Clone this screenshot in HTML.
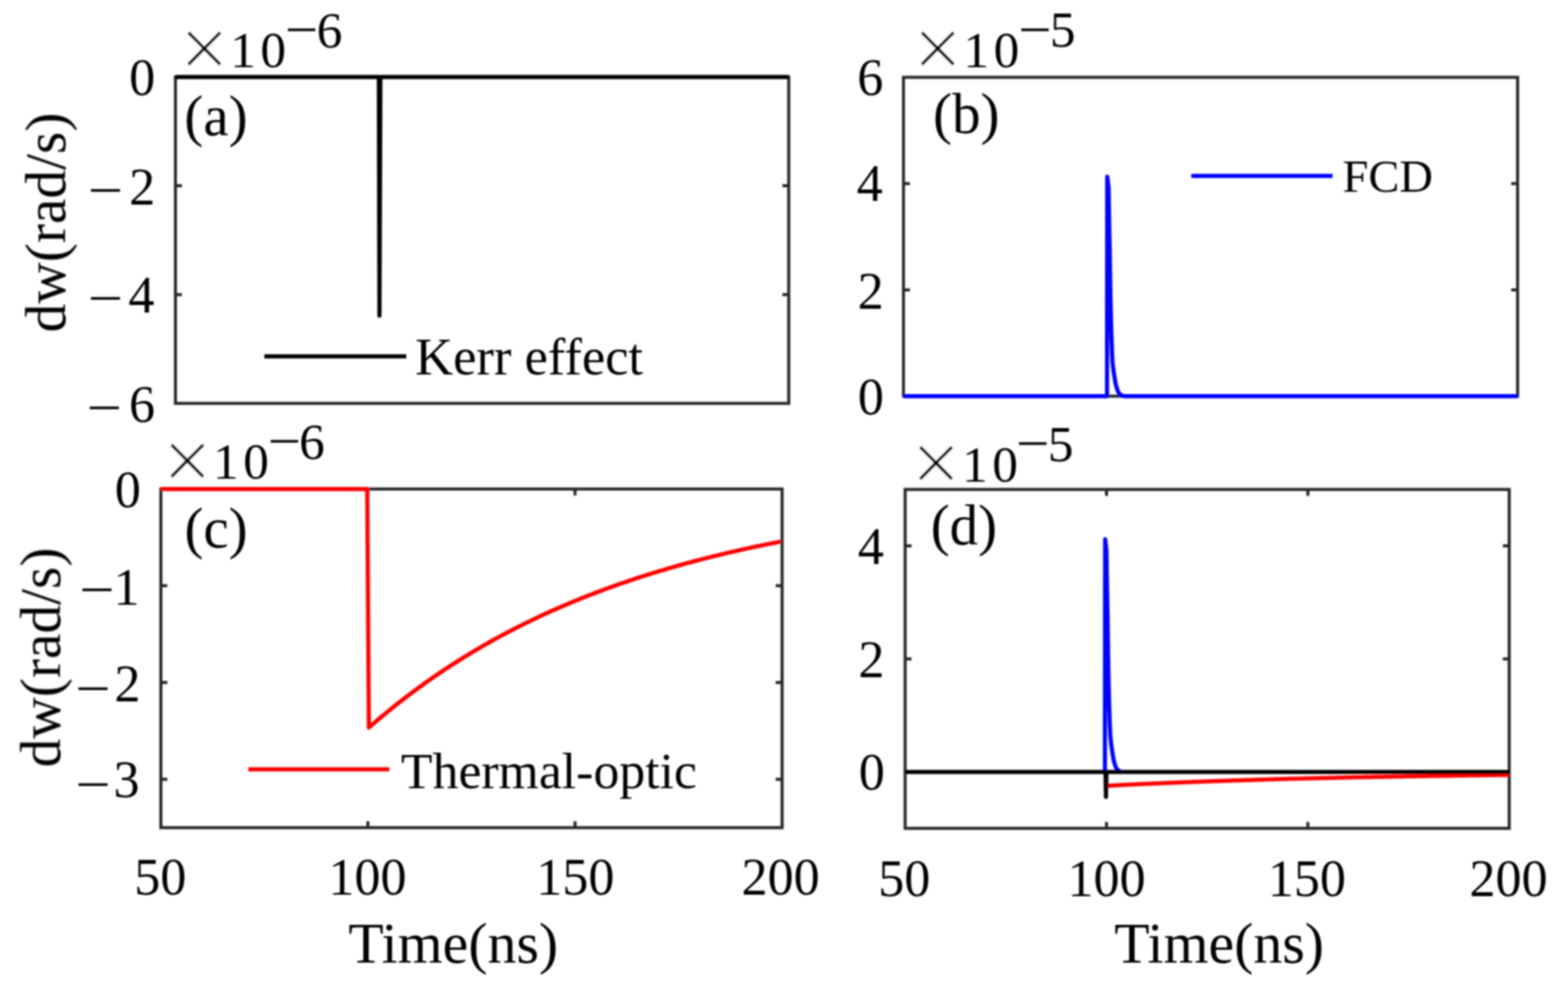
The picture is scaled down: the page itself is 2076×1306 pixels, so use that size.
<!DOCTYPE html>
<html><head><meta charset="utf-8"><title>dw vs Time</title>
<style>html,body{margin:0;padding:0;background:#fff;}svg{display:block;}text{font-family:'Liberation Serif', 'Times New Roman', serif;fill:#000;}</style>
</head><body>
<svg width="2076" height="1306" viewBox="0 0 2076 1306">
<defs><filter id="soft" x="-2%" y="-2%" width="104%" height="104%"><feGaussianBlur stdDeviation="1.0"/></filter></defs>
<rect width="2076" height="1306" fill="#fff"/>
<g filter="url(#soft)">
<rect x="232.3" y="102.0" width="812.00" height="432.30" fill="none" stroke="#262626" stroke-width="4.0"/>
<path d="M232.3,246.10h8.5M1044.3,246.10h-8.5M232.3,390.20h8.5M1044.3,390.20h-8.5" stroke="#262626" stroke-width="4.0" fill="none"/>
<rect x="1196.2" y="102.4" width="813.10" height="422.30" fill="none" stroke="#262626" stroke-width="4.0"/>
<path d="M1196.2,383.93h8.5M2009.3,383.93h-8.5M1196.2,243.17h8.5M2009.3,243.17h-8.5" stroke="#262626" stroke-width="4.0" fill="none"/>
<rect x="213.0" y="647.7" width="822.50" height="448.60" fill="none" stroke="#262626" stroke-width="4.0"/>
<path d="M213.0,775.87h8.5M1035.5,775.87h-8.5M213.0,904.04h8.5M1035.5,904.04h-8.5M213.0,1032.21h8.5M1035.5,1032.21h-8.5M487.17,1096.3v-8.5M487.17,647.7v8.5M761.33,1096.3v-8.5M761.33,647.7v8.5" stroke="#262626" stroke-width="4.0" fill="none"/>
<rect x="1198.4" y="648.3" width="799.80" height="448.90" fill="none" stroke="#262626" stroke-width="4.0"/>
<path d="M1198.4,1022.38h8.5M1998.2,1022.38h-8.5M1198.4,872.75h8.5M1998.2,872.75h-8.5M1198.4,723.12h8.5M1998.2,723.12h-8.5M1465.00,1097.2v-8.5M1465.00,648.3v8.5M1731.60,1097.2v-8.5M1731.60,648.3v8.5" stroke="#262626" stroke-width="4.0" fill="none"/>
<path d="M232.30,102.00L501.60,102.00L502.40,418.00L503.60,102.00L1044.30,102.00" fill="none" stroke="#000" stroke-width="5.5" stroke-linejoin="round" stroke-linecap="butt"/>
<path d="M1196.20,524.70L1465.70,524.70L1466.00,234.02L1467.72,248.19L1467.94,261.68L1468.16,274.51L1468.38,286.71L1468.59,298.32L1468.81,309.36L1469.03,319.86L1469.25,329.85L1469.38,339.35L1469.51,348.39L1469.63,356.99L1469.76,365.17L1469.89,372.95L1470.02,380.35L1470.15,387.39L1470.27,394.09L1470.40,400.46L1470.53,406.52L1470.66,412.28L1470.79,417.76L1470.92,422.98L1471.04,427.94L1471.17,432.66L1471.30,437.15L1471.42,441.42L1471.55,445.48L1471.68,449.34L1471.80,453.02L1471.93,456.51L1472.06,459.84L1472.18,463.00L1472.31,466.01L1472.44,468.87L1472.56,471.60L1472.69,474.19L1472.82,476.65L1472.94,478.99L1473.13,481.22L1473.35,483.34L1473.58,485.36L1473.81,487.28L1474.03,489.10L1474.26,490.84L1474.49,492.49L1474.71,494.06L1474.94,495.56L1475.17,496.98L1475.39,498.33L1475.62,499.62L1475.81,500.84L1475.99,502.00L1476.17,503.11L1476.34,504.16L1476.52,505.16L1476.70,506.12L1476.88,507.02L1477.05,507.89L1477.23,508.71L1477.41,509.49L1477.58,510.23L1477.76,510.93L1477.94,511.60L1478.11,512.24L1478.29,512.85L1478.47,513.43L1478.65,513.98L1478.82,514.50L1479.00,515.00L1479.15,515.47L1479.29,515.92L1479.44,516.35L1479.58,516.76L1479.73,517.14L1479.88,517.51L1480.02,517.86L1480.17,518.20L1480.31,518.51L1480.46,518.82L1480.60,519.10L1480.75,519.38L1480.90,519.64L1481.04,519.88L1481.19,520.12L1481.33,520.34L1481.48,520.55L1481.62,520.76L1481.77,520.95L1481.92,521.13L1482.06,521.31L1482.21,521.47L1482.35,521.63L1482.50,521.78L1482.61,521.92L1482.71,522.06L1482.82,522.19L1482.93,522.31L1483.04,522.42L1483.14,522.54L1483.25,522.64L1483.36,522.74L1483.46,522.84L1483.57,522.93L1483.68,523.01L1483.79,523.10L1483.89,523.17L1484.00,523.25L1484.11,523.32L1484.21,523.39L1484.32,523.45L1484.43,523.51L1484.54,523.57L1484.64,523.63L1484.75,523.68L1484.86,523.73L1484.96,523.77L1485.07,523.82L1485.18,523.86L1485.29,523.90L1485.39,523.94L1485.50,523.98L1488.00,524.70L2009.30,524.70" fill="none" stroke="#00f" stroke-width="5.5" stroke-linejoin="round" stroke-linecap="butt"/>
<path d="M213.00,647.70L486.20,647.70L488.40,963.64L491.14,961.25L493.88,958.88L496.62,956.52L499.37,954.18L502.11,951.86L504.85,949.56L507.59,947.27L510.33,945.01L513.08,942.75L515.82,940.52L518.56,938.30L521.30,936.10L524.04,933.92L526.78,931.75L529.53,929.60L532.27,927.47L535.01,925.35L537.75,923.25L540.49,921.16L543.23,919.09L545.98,917.04L548.72,915.00L551.46,912.97L554.20,910.96L556.94,908.97L559.68,906.99L562.42,905.03L565.17,903.08L567.91,901.15L570.65,899.23L573.39,897.33L576.13,895.44L578.88,893.56L581.62,891.70L584.36,889.85L587.10,888.02L589.84,886.20L592.58,884.39L595.33,882.60L598.07,880.82L600.81,879.06L603.55,877.31L606.29,875.57L609.03,873.84L611.78,872.13L614.52,870.43L617.26,868.74L620.00,867.07L622.74,865.41L625.48,863.76L628.22,862.13L630.97,860.50L633.71,858.89L636.45,857.29L639.19,855.70L641.93,854.13L644.67,852.57L647.42,851.02L650.16,849.48L652.90,847.95L655.64,846.43L658.38,844.93L661.12,843.43L663.87,841.95L666.61,840.48L669.35,839.02L672.09,837.57L674.83,836.14L677.58,834.71L680.32,833.29L683.06,831.89L685.80,830.49L688.54,829.11L691.28,827.74L694.03,826.37L696.77,825.02L699.51,823.68L702.25,822.35L704.99,821.02L707.73,819.71L710.48,818.41L713.22,817.12L715.96,815.83L718.70,814.56L721.44,813.30L724.18,812.04L726.92,810.80L729.67,809.56L732.41,808.34L735.15,807.12L737.89,805.92L740.63,804.72L743.38,803.53L746.12,802.35L748.86,801.18L751.60,800.02L754.34,798.86L757.08,797.72L759.83,796.58L762.57,795.46L765.31,794.34L768.05,793.23L770.79,792.13L773.53,791.03L776.27,789.95L779.02,788.87L781.76,787.80L784.50,786.74L787.24,785.69L789.98,784.64L792.73,783.61L795.47,782.58L798.21,781.56L800.95,780.54L803.69,779.54L806.43,778.54L809.18,777.55L811.92,776.56L814.66,775.59L817.40,774.62L820.14,773.66L822.88,772.71L825.62,771.76L828.37,770.82L831.11,769.89L833.85,768.96L836.59,768.04L839.33,767.13L842.08,766.23L844.82,765.33L847.56,764.44L850.30,763.56L853.04,762.68L855.78,761.81L858.52,760.95L861.27,760.09L864.01,759.24L866.75,758.39L869.49,757.55L872.23,756.72L874.98,755.90L877.72,755.08L880.46,754.27L883.20,753.46L885.94,752.66L888.68,751.86L891.43,751.07L894.17,750.29L896.91,749.52L899.65,748.74L902.39,747.98L905.13,747.22L907.88,746.47L910.62,745.72L913.36,744.98L916.10,744.24L918.84,743.51L921.58,742.78L924.32,742.06L927.07,741.35L929.81,740.64L932.55,739.94L935.29,739.24L938.03,738.55L940.77,737.86L943.52,737.18L946.26,736.50L949.00,735.83L951.74,735.16L954.48,734.50L957.23,733.84L959.97,733.19L962.71,732.54L965.45,731.90L968.19,731.26L970.93,730.63L973.68,730.00L976.42,729.38L979.16,728.76L981.90,728.14L984.64,727.53L987.38,726.93L990.12,726.33L992.87,725.74L995.61,725.14L998.35,724.56L1001.09,723.98L1003.83,723.40L1006.58,722.83L1009.32,722.26L1012.06,721.69L1014.80,721.13L1017.54,720.58L1020.28,720.02L1023.02,719.48L1025.77,718.93L1028.51,718.39L1031.25,717.86L1033.99,717.33" fill="none" stroke="#f00" stroke-width="5.5" stroke-linejoin="round" stroke-linecap="butt"/>
<path d="M1462.90,1022.38L1463.20,714.14L1464.89,729.17L1465.11,743.47L1465.32,757.07L1465.54,770.01L1465.75,782.32L1465.97,794.03L1466.18,805.17L1466.40,815.76L1466.52,825.84L1466.65,835.42L1466.78,844.54L1466.90,853.22L1467.03,861.47L1467.15,869.31L1467.28,876.78L1467.41,883.88L1467.53,890.63L1467.66,897.06L1467.78,903.17L1467.91,908.99L1468.04,914.52L1468.16,919.78L1468.29,924.78L1468.41,929.54L1468.54,934.07L1468.66,938.38L1468.79,942.47L1468.91,946.37L1469.03,950.08L1469.16,953.60L1469.28,956.96L1469.41,960.15L1469.53,963.18L1469.66,966.07L1469.78,968.82L1469.91,971.43L1470.03,973.92L1470.21,976.28L1470.43,978.53L1470.66,980.67L1470.88,982.70L1471.10,984.64L1471.33,986.48L1471.55,988.23L1471.77,989.89L1471.99,991.48L1472.22,992.99L1472.44,994.42L1472.66,995.78L1472.85,997.08L1473.03,998.32L1473.20,999.49L1473.38,1000.61L1473.55,1001.67L1473.72,1002.68L1473.90,1003.64L1474.07,1004.55L1474.25,1005.42L1474.42,1006.25L1474.60,1007.04L1474.77,1007.79L1474.94,1008.50L1475.12,1009.17L1475.29,1009.82L1475.47,1010.43L1475.64,1011.01L1475.81,1011.57L1475.99,1012.10L1476.13,1012.60L1476.28,1013.08L1476.42,1013.53L1476.56,1013.96L1476.71,1014.37L1476.85,1014.76L1476.99,1015.13L1477.14,1015.49L1477.28,1015.82L1477.42,1016.14L1477.57,1016.45L1477.71,1016.74L1477.85,1017.01L1478.00,1017.27L1478.14,1017.52L1478.28,1017.76L1478.43,1017.99L1478.57,1018.20L1478.71,1018.40L1478.86,1018.60L1479.00,1018.78L1479.15,1018.96L1479.29,1019.13L1479.43,1019.28L1479.54,1019.44L1479.64,1019.58L1479.75,1019.72L1479.85,1019.85L1479.96,1019.97L1480.06,1020.09L1480.17,1020.20L1480.28,1020.31L1480.38,1020.41L1480.49,1020.50L1480.59,1020.60L1480.70,1020.68L1480.80,1020.77L1480.91,1020.84L1481.01,1020.92L1481.12,1020.99L1481.22,1021.06L1481.33,1021.12L1481.43,1021.19L1481.54,1021.24L1481.65,1021.30L1481.75,1021.35L1481.86,1021.40L1481.96,1021.45L1482.07,1021.50L1482.17,1021.54L1482.28,1021.58L1482.38,1021.62L1484.84,1022.38" fill="none" stroke="#00f" stroke-width="5.5" stroke-linejoin="round" stroke-linecap="butt"/>
<path d="M1464.30,1022.38L1464.90,1040.83L1467.57,1040.69L1470.23,1040.55L1472.90,1040.41L1475.56,1040.27L1478.23,1040.14L1480.90,1040.00L1483.56,1039.87L1486.23,1039.74L1488.89,1039.61L1491.56,1039.48L1494.23,1039.35L1496.89,1039.22L1499.56,1039.09L1502.22,1038.96L1504.89,1038.84L1507.56,1038.71L1510.22,1038.59L1512.89,1038.47L1515.55,1038.35L1518.22,1038.23L1520.89,1038.11L1523.55,1037.99L1526.22,1037.87L1528.88,1037.75L1531.55,1037.63L1534.22,1037.52L1536.88,1037.40L1539.55,1037.29L1542.21,1037.18L1544.88,1037.07L1547.55,1036.95L1550.21,1036.84L1552.88,1036.73L1555.54,1036.63L1558.21,1036.52L1560.88,1036.41L1563.54,1036.31L1566.21,1036.20L1568.87,1036.10L1571.54,1035.99L1574.21,1035.89L1576.87,1035.79L1579.54,1035.68L1582.20,1035.58L1584.87,1035.48L1587.54,1035.38L1590.20,1035.29L1592.87,1035.19L1595.53,1035.09L1598.20,1035.00L1600.87,1034.90L1603.53,1034.81L1606.20,1034.71L1608.86,1034.62L1611.53,1034.53L1614.20,1034.43L1616.86,1034.34L1619.53,1034.25L1622.19,1034.16L1624.86,1034.07L1627.53,1033.98L1630.19,1033.90L1632.86,1033.81L1635.52,1033.72L1638.19,1033.64L1640.86,1033.55L1643.52,1033.47L1646.19,1033.38L1648.85,1033.30L1651.52,1033.22L1654.19,1033.13L1656.85,1033.05L1659.52,1032.97L1662.18,1032.89L1664.85,1032.81L1667.52,1032.73L1670.18,1032.66L1672.85,1032.58L1675.51,1032.50L1678.18,1032.42L1680.85,1032.35L1683.51,1032.27L1686.18,1032.20L1688.84,1032.12L1691.51,1032.05L1694.18,1031.98L1696.84,1031.90L1699.51,1031.83L1702.17,1031.76L1704.84,1031.69L1707.51,1031.62L1710.17,1031.55L1712.84,1031.48L1715.50,1031.41L1718.17,1031.34L1720.84,1031.27L1723.50,1031.21L1726.17,1031.14L1728.83,1031.07L1731.50,1031.01L1734.17,1030.94L1736.83,1030.88L1739.50,1030.81L1742.16,1030.75L1744.83,1030.69L1747.50,1030.62L1750.16,1030.56L1752.83,1030.50L1755.49,1030.44L1758.16,1030.38L1760.83,1030.32L1763.49,1030.26L1766.16,1030.20L1768.82,1030.14L1771.49,1030.08L1774.16,1030.02L1776.82,1029.96L1779.49,1029.91L1782.15,1029.85L1784.82,1029.79L1787.49,1029.74L1790.15,1029.68L1792.82,1029.62L1795.48,1029.57L1798.15,1029.52L1800.82,1029.46L1803.48,1029.41L1806.15,1029.35L1808.81,1029.30L1811.48,1029.25L1814.15,1029.20L1816.81,1029.15L1819.48,1029.10L1822.14,1029.04L1824.81,1028.99L1827.48,1028.94L1830.14,1028.89L1832.81,1028.84L1835.47,1028.80L1838.14,1028.75L1840.81,1028.70L1843.47,1028.65L1846.14,1028.60L1848.80,1028.56L1851.47,1028.51L1854.14,1028.46L1856.80,1028.42L1859.47,1028.37L1862.13,1028.33L1864.80,1028.28L1867.47,1028.24L1870.13,1028.19L1872.80,1028.15L1875.46,1028.10L1878.13,1028.06L1880.80,1028.02L1883.46,1027.98L1886.13,1027.93L1888.79,1027.89L1891.46,1027.85L1894.13,1027.81L1896.79,1027.77L1899.46,1027.73L1902.12,1027.69L1904.79,1027.65L1907.46,1027.61L1910.12,1027.57L1912.79,1027.53L1915.45,1027.49L1918.12,1027.45L1920.79,1027.41L1923.45,1027.37L1926.12,1027.34L1928.78,1027.30L1931.45,1027.26L1934.12,1027.22L1936.78,1027.19L1939.45,1027.15L1942.11,1027.11L1944.78,1027.08L1947.45,1027.04L1950.11,1027.01L1952.78,1026.97L1955.44,1026.94L1958.11,1026.90L1960.78,1026.87L1963.44,1026.84L1966.11,1026.80L1968.77,1026.77L1971.44,1026.74L1974.11,1026.70L1976.77,1026.67L1979.44,1026.64L1982.10,1026.61L1984.77,1026.57L1987.44,1026.54L1990.10,1026.51L1992.77,1026.48L1995.43,1026.45L1998.10,1026.42" fill="none" stroke="#f00" stroke-width="5.5" stroke-linejoin="round" stroke-linecap="butt"/>
<path d="M1198.40,1022.38L1463.70,1022.38L1464.30,1055.50L1464.90,1022.38L1998.20,1022.38" fill="none" stroke="#000" stroke-width="5.5" stroke-linejoin="round" stroke-linecap="butt"/>
<path d="M350,472.1H537.9" stroke="#000" stroke-width="5.5"/>
<path d="M1577.3,233H1764.3" stroke="#00f" stroke-width="5.5"/>
<path d="M328.8,1019H515.5" stroke="#f00" stroke-width="5.5"/>
<text x="171.10" y="126.10" font-size="69">0</text>
<text x="171.00" y="270.76" font-size="69">2</text>
<text transform="translate(116.61,275.34) scale(1.2,1.0)" font-size="69">−</text>
<text x="169.93" y="413.53" font-size="69">4</text>
<text transform="translate(116.61,417.54) scale(1.2,1.0)" font-size="69">−</text>
<text x="170.77" y="558.66" font-size="69">6</text>
<text transform="translate(115.11,562.74) scale(1.2,1.0)" font-size="69">−</text>
<text x="1134.92" y="125.91" font-size="69">6</text>
<text x="1134.23" y="266.08" font-size="69">4</text>
<text x="1135.44" y="408.81" font-size="69">2</text>
<text x="1135.65" y="549.05" font-size="69">0</text>
<text x="152.10" y="672.30" font-size="69">0</text>
<text x="150.15" y="800.72" font-size="69">1</text>
<text transform="translate(105.16,803.94) scale(1.2,1.0)" font-size="69">−</text>
<text x="151.44" y="929.01" font-size="69">2</text>
<text transform="translate(100.11,934.94) scale(1.2,1.0)" font-size="69">−</text>
<text x="150.19" y="1056.31" font-size="69">3</text>
<text transform="translate(100.11,1061.94) scale(1.2,1.0)" font-size="69">−</text>
<text x="1135.63" y="746.53" font-size="69">4</text>
<text x="1136.55" y="896.96" font-size="69">2</text>
<text x="1137.05" y="1046.10" font-size="69">0</text>
<text x="177.66" y="1185.20" font-size="69">50</text>
<text x="434.77" y="1185.20" font-size="69">100</text>
<text x="709.88" y="1185.20" font-size="69">150</text>
<text x="981.84" y="1185.20" font-size="69">200</text>
<text x="1162.76" y="1186.50" font-size="69">50</text>
<text x="1413.18" y="1186.50" font-size="69">100</text>
<text x="1678.58" y="1186.50" font-size="69">150</text>
<text x="1945.44" y="1186.50" font-size="69">200</text>
<text x="237.68" y="103.12" font-size="116" stroke="#fff" stroke-width="1.6">×</text>
<text x="304.85" y="88.62" font-size="68" letter-spacing="6">10</text>
<text transform="translate(377.26,61.51) scale(1.15,1.0)" font-size="68">−</text>
<text x="419.22" y="62.53" font-size="68">6</text>
<text x="1208.63" y="103.42" font-size="116" stroke="#fff" stroke-width="1.6">×</text>
<text x="1275.45" y="89.07" font-size="68" letter-spacing="6">10</text>
<text transform="translate(1348.36,62.01) scale(1.15,1.0)" font-size="68">−</text>
<text x="1389.90" y="62.23" font-size="68">5</text>
<text x="215.28" y="649.27" font-size="116" stroke="#fff" stroke-width="1.6">×</text>
<text x="282.10" y="634.42" font-size="68" letter-spacing="6">10</text>
<text transform="translate(354.56,607.31) scale(1.15,1.0)" font-size="68">−</text>
<text x="395.88" y="608.28" font-size="68">6</text>
<text x="1206.38" y="652.42" font-size="116" stroke="#fff" stroke-width="1.6">×</text>
<text x="1273.65" y="637.62" font-size="68" letter-spacing="6">10</text>
<text transform="translate(1345.21,610.11) scale(1.15,1.0)" font-size="68">−</text>
<text x="1387.15" y="611.23" font-size="68">5</text>
<text x="244.10" y="178.52" font-size="75.5">(a)</text>
<text x="1235.33" y="175.66" font-size="75.5">(b)</text>
<text x="244.20" y="725.02" font-size="75.5">(c)</text>
<text x="1232.13" y="720.96" font-size="75.5">(d)</text>
<text x="549.80" y="496.10" font-size="69.5">Kerr effect</text>
<text x="1777.60" y="254.46" font-size="61.5">FCD</text>
<text x="530.82" y="1044.28" font-size="68.5">Thermal-optic</text>
<text x="461.31" y="1275.31" font-size="76.5">Time(ns)</text>
<text x="1475.16" y="1274.96" font-size="76.5">Time(ns)</text>
<text transform="translate(86.08,440.31) rotate(-90)" font-size="76">dw(rad/s)</text>
<text transform="translate(79.33,1016.46) rotate(-90)" font-size="76">dw(rad/s)</text>
</g>
</svg>
</body></html>
